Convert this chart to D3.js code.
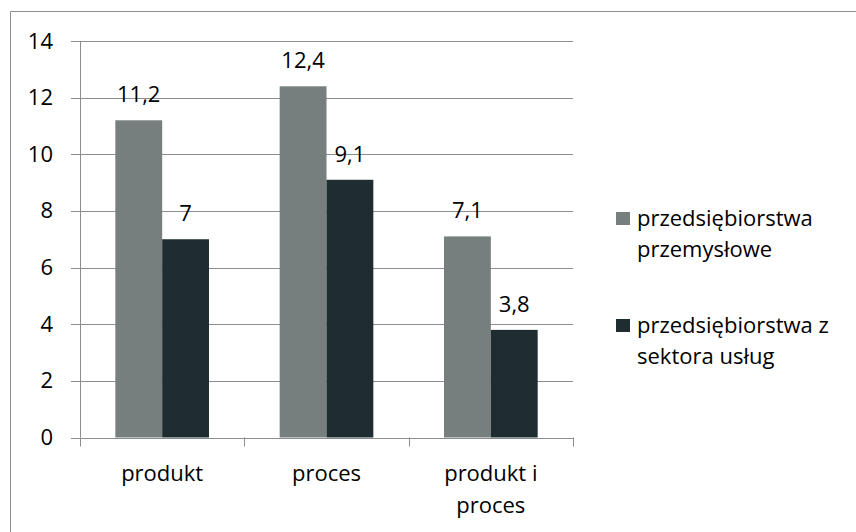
<!DOCTYPE html>
<html>
<head>
<meta charset="utf-8">
<script src="https://cdn.jsdelivr.net/npm/d3@7"></script>
<style>
  body { margin: 0; background: #fff; }
  text { font-family: "Open Sans", sans-serif; fill: #000; }
</style>
</head>
<body>
<svg width="856" height="532"></svg>
<script>
const categories = [["produkt"], ["proces"], ["produkt i", "proces"]];
const catKeys = ["produkt", "proces", "produkt i proces"];
const seriesNames = [["przedsiębiorstwa", "przemysłowe"], ["przedsiębiorstwa z", "sektora usług"]];
const industry = [11.2, 12.4, 7.1];
const services = [7, 9.1, 3.8];
const yTicks = [0, 2, 4, 6, 8, 10, 12, 14];
const colors = ["#767e7e", "#1f2d30"];

const svg = d3.select("svg");
const margin = {top: 41, left: 80, right: 283, bottom: 94.5};
const width = +svg.attr("width");
const height = +svg.attr("height");
const innerWidth = width - margin.left - margin.right;
const innerHeight = height - margin.top - margin.bottom;

// chart frame: only top and left edges are inside the page
svg.append("path")
    .attr("d", `M10.5,${height} V11.5 H${width}`)
    .attr("fill", "none")
    .attr("stroke", "#8c8c8c");

const g = svg.append("g")
    .attr("transform", `translate(${margin.left},${margin.top})`);

const x = d3.scaleBand()
    .domain(catKeys)
    .range([0, innerWidth])
    .paddingInner(0.43)
    .paddingOuter(0.215);

const y = d3.scaleLinear()
    .domain([0, 14])
    .range([innerHeight, 0]);

const x1 = d3.scaleBand()
    .domain([0, 1])
    .range([0, x.bandwidth()]);

// gridlines
g.append("g").selectAll("line")
    .data(yTicks)
    .enter().append("line")
      .attr("x1", -9).attr("x2", innerWidth)
      .attr("y1", d => Math.round(y(d)) + 0.5)
      .attr("y2", d => Math.round(y(d)) + 0.5)
      .style("stroke", "#8a8e8e");

// y labels
g.append("g").selectAll("text")
    .data(yTicks)
    .enter().append("text")
      .attr("x", -27)
      .attr("y", d => y(d) + 7.5)
      .attr("text-anchor", "end")
      .attr("font-size", 22)
      .text(d => d);

// bars
const rows = catKeys.map((c, i) => ({cat: c, values: [industry[i], services[i]]}));

const groups = g.append("g").selectAll("g")
    .data(rows)
    .enter().append("g")
      .attr("transform", d => `translate(${x(d.cat)},0)`);

groups.selectAll("rect")
    .data(d => d.values)
    .enter().append("rect")
      .attr("x", (d, i) => x1(i))
      .attr("y", d => y(d))
      .attr("width", x1.bandwidth())
      .attr("height", d => innerHeight - y(d))
      .style("fill", (d, i) => colors[i]);

groups.selectAll("text")
    .data(d => d.values)
    .enter().append("text")
      .attr("x", (d, i) => x1(i) + x1.bandwidth() / 2)
      .attr("y", d => y(d) - 18)
      .attr("text-anchor", "middle")
      .attr("font-size", 22)
      .text(d => String(d).replace(".", ","));

// axes lines
g.append("line")
    .attr("x1", 0.5).attr("x2", 0.5)
    .attr("y1", 0).attr("y2", innerHeight)
    .style("stroke", "#8a8e8e");

g.append("line")
    .attr("x1", 0).attr("x2", innerWidth)
    .attr("y1", Math.round(innerHeight) + 0.5).attr("y2", Math.round(innerHeight) + 0.5)
    .style("stroke", "#8a8e8e");

const step = innerWidth / catKeys.length;
g.append("g").selectAll("line")
    .data(d3.range(catKeys.length + 1))
    .enter().append("line")
      .attr("x1", d => Math.round(d * step) + 0.5)
      .attr("x2", d => Math.round(d * step) + 0.5)
      .attr("y1", innerHeight)
      .attr("y2", innerHeight + 9)
      .style("stroke", "#8a8e8e");

// category labels
const catLabels = g.append("g").selectAll("text")
    .data(categories)
    .enter().append("text")
      .attr("text-anchor", "middle")
      .attr("font-size", 22)
      .attr("x", (d, i) => x(catKeys[i]) + x.bandwidth() / 2)
      .attr("y", innerHeight + 43);

catLabels.selectAll("tspan")
    .data(d => d)
    .enter().append("tspan")
      .attr("x", function() { return d3.select(this.parentNode).attr("x"); })
      .attr("dy", (d, i) => i === 0 ? 0 : 32)
      .text(d => d);

// legend
const legend = svg.append("g").selectAll("g")
    .data(seriesNames)
    .enter().append("g")
      .attr("transform", (d, i) => `translate(616,${212 + i * 107})`);

legend.append("rect")
    .attr("width", 14).attr("height", 13)
    .style("fill", (d, i) => colors[i]);

const legendText = legend.append("text")
    .attr("x", 21)
    .attr("y", 14)
    .attr("font-size", 22);

legendText.selectAll("tspan")
    .data(d => d)
    .enter().append("tspan")
      .attr("x", 21)
      .attr("dy", (d, i) => i === 0 ? 0 : 31)
      .text(d => d);
</script>
</body>
</html>
